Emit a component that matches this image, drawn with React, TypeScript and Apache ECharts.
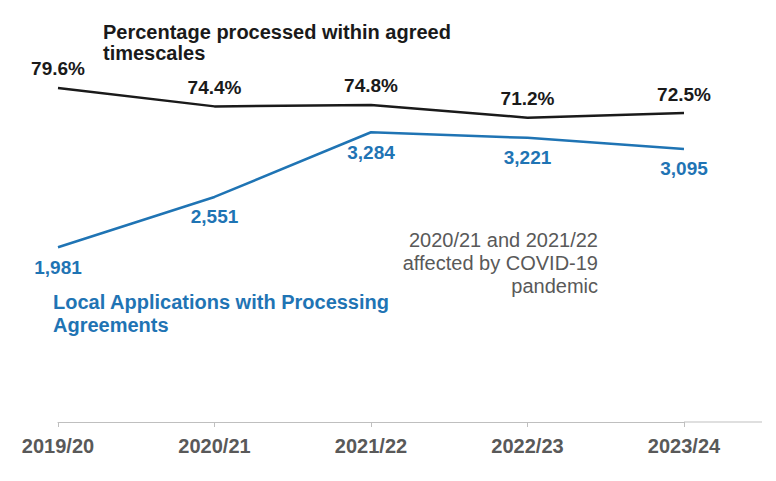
import React, { useEffect, useRef } from "react";
import * as echarts from "echarts";

const categories = ["2019/20", "2020/21", "2021/22", "2022/23", "2023/24"];
const percentProcessed = [79.6, 74.4, 74.8, 71.2, 72.5];
const localApplications = [1981, 2551, 3284, 3221, 3095];

const FONT = '"Liberation Sans", Arial, sans-serif';
const BLUE = "#1f74b4";
const BLACK = "#1a1a1a";
const GREY = "#595959";
const AXIS = "#bfbfbf";
const CLEAR = "rgba(0,0,0,0)";

export default function App() {
  const ref = useRef<HTMLDivElement>(null);

  useEffect(() => {
    document.body.style.margin = "0";
    if (!ref.current) return;
    const chart = echarts.init(ref.current, undefined, { renderer: "svg" });
    chart.setOption({
      animation: false,
      backgroundColor: "#ffffff",
      grid: { left: 58, right: 92, top: 25, bottom: 59, containLabel: false },
      xAxis: {
        type: "category",
        data: categories,
        boundaryGap: false,
        axisLine: { show: true, lineStyle: { color: AXIS, width: 1 } },
        axisTick: { show: true, alignWithLabel: true, length: 5, lineStyle: { color: AXIS } },
        axisLabel: {
          margin: 14,
          fontFamily: FONT,
          fontSize: 20,
          fontWeight: "bold",
          color: GREY,
        },
        splitLine: { show: false },
      },
      yAxis: [
        {
          type: "value",
          min: 0,
          max: 4500,
          show: false,
          splitLine: { show: false },
        },
        {
          type: "value",
          min: -14.8,
          max: 97.4,
          show: false,
          splitLine: { show: false },
        },
      ],
      series: [
        {
          name: "Percentage processed within agreed timescales",
          type: "line",
          yAxisIndex: 1,
          data: percentProcessed,
          symbol: "circle",
          symbolSize: 1,
          showSymbol: true,
          itemStyle: { color: CLEAR, borderWidth: 0 },
          lineStyle: { color: BLACK, width: 2.5 },
          label: {
            show: true,
            position: "top",
            distance: 9,
            fontFamily: FONT,
            fontSize: 19,
            fontWeight: "bold",
            color: BLACK,
            formatter: (p: any) => Number(p.value).toFixed(1) + "%",
          },
        },
        {
          name: "Local Applications with Processing Agreements",
          type: "line",
          yAxisIndex: 0,
          data: localApplications,
          symbol: "circle",
          symbolSize: 1,
          showSymbol: true,
          itemStyle: { color: CLEAR, borderWidth: 0 },
          lineStyle: { color: BLUE, width: 2.5 },
          label: {
            show: true,
            position: "bottom",
            distance: 10,
            fontFamily: FONT,
            fontSize: 19,
            fontWeight: "bold",
            color: BLUE,
            formatter: (p: any) => Number(p.value).toLocaleString("en-GB"),
          },
        },
      ],
      graphic: [
        {
          type: "line",
          shape: { x1: 684, y1: 422, x2: 762, y2: 422 },
          style: { stroke: AXIS, lineWidth: 1 },
          silent: true,
        },
        {
          type: "text",
          x: 103,
          y: 21.5,
          style: {
            text: "Percentage processed within agreed\ntimescales",
            fontFamily: FONT,
            fontSize: 20,
            fontWeight: "bold",
            lineHeight: 21,
            fill: BLACK,
            align: "left",
            verticalAlign: "top",
          },
        },
        {
          type: "text",
          x: 53,
          y: 290,
          style: {
            text: "Local Applications with Processing\nAgreements",
            fontFamily: FONT,
            fontSize: 20,
            fontWeight: "bold",
            lineHeight: 23,
            fill: BLUE,
            align: "left",
            verticalAlign: "top",
          },
        },
        {
          type: "text",
          x: 598,
          y: 228.5,
          style: {
            text: "2020/21 and 2021/22\naffected by COVID-19\npandemic",
            fontFamily: FONT,
            fontSize: 20,
            lineHeight: 23,
            fill: GREY,
            align: "right",
            verticalAlign: "top",
          },
        },
      ],
    });
    return () => chart.dispose();
  }, []);

  return <div ref={ref} style={{ width: 776, height: 481 }} />;
}
